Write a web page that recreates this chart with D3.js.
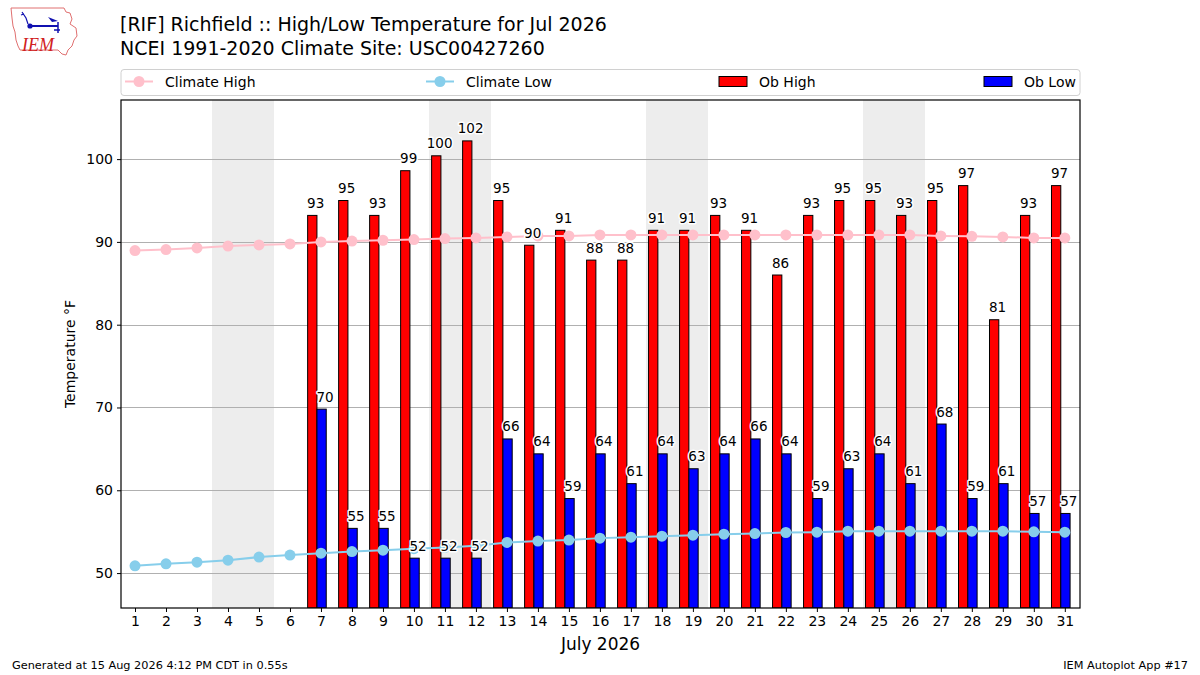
<!DOCTYPE html>
<html>
<head>
<meta charset="utf-8">
<script src="https://cdn.jsdelivr.net/npm/d3@7"></script>
<style>
  html, body { margin: 0; padding: 0; background: #fff; }
  svg { display: block; font-family: "DejaVu Sans", sans-serif; }
</style>
</head>
<body>
<svg id="chart" width="1200" height="675"></svg>
<script>
// ---- data ----
const days = [1,2,3,4,5,6,7,8,9,10,11,12,13,14,15,16,17,18,19,20,21,22,23,24,25,26,27,28,29,30,31];
const climateHigh = [88.95,89.07,89.27,89.5,89.64,89.76,90.0,90.1,90.2,90.28,90.4,90.48,90.6,90.72,90.72,90.84,90.84,90.84,90.84,90.84,90.84,90.84,90.84,90.84,90.84,90.84,90.72,90.68,90.6,90.48,90.48];
const climateLow = [50.88,51.12,51.32,51.56,51.93,52.17,52.4,52.6,52.77,52.95,53.1,53.3,53.7,53.86,53.98,54.22,54.34,54.46,54.58,54.7,54.77,54.9,54.94,55.06,55.06,55.06,55.06,55.06,55.06,54.98,54.94];
const obHigh = [null,null,null,null,null,null,93.2,95,93.2,98.6,100.4,102.2,95,89.6,91.4,87.8,87.8,91.4,91.4,93.2,91.4,86,93.2,95,95,93.2,95,96.8,80.6,93.2,96.8];
const obLow = [null,null,null,null,null,null,69.8,55.4,55.4,51.8,51.8,51.8,66.2,64.4,59,64.4,60.8,64.4,62.6,64.4,66.2,64.4,59,62.6,64.4,60.8,68,59,60.8,57.2,57.2];
const weekendDays = [4,5,11,12,18,19,25,26];
const yTicks = [50,60,70,80,90,100];
const legendLabels = ["Climate High","Climate Low","Ob High","Ob Low"];
const titleLines = ["[RIF] Richfield :: High/Low Temperature for Jul 2026","NCEI 1991-2020 Climate Site: USC00427260"];
const xLabel = "July 2026";
const yLabel = "Temperature \u00B0F";
const footerLeft = "Generated at 15 Aug 2026 4:12 PM CDT in 0.55s";
const footerRight = "IEM Autoplot App #17";

// ---- layout ----
const svg = d3.select("#chart");
const L = 121, R = 1080, T = 100, B = 608;
const x = d3.scaleLinear().domain([0.548, 31.49]).range([L, R]);
const y = d3.scaleLinear().domain([45.78, 107.14]).range([B, T]);
const dayW = x(1) - x(0);

const colHigh = "#ff0000", colLow = "#0000ff", colCH = "#ffc0cb", colCL = "#87ceeb";

// clip
svg.append("defs").append("clipPath").attr("id","plotclip")
  .append("rect").attr("x",L).attr("y",T).attr("width",R-L).attr("height",B-T);

const plot = svg.append("g").attr("clip-path","url(#plotclip)");

// weekend shading
plot.selectAll("rect.wk").data(weekendDays).join("rect")
  .attr("class","wk")
  .attr("x", d => Math.round(x(d - 0.5))).attr("width", d => Math.round(x(d + 0.5)) - Math.round(x(d - 0.5)))
  .attr("y", T).attr("height", B - T)
  .attr("shape-rendering","crispEdges")
  .attr("fill", "#ededed");

// grid
plot.selectAll("line.grid").data(yTicks).join("line")
  .attr("x1", L).attr("x2", R)
  .attr("y1", d => Math.round(y(d)) + 0.5).attr("y2", d => Math.round(y(d)) + 0.5)
  .attr("stroke", "#b0b0b0").attr("stroke-width", 1);

// bars
const barW = 0.3;
const hiData = days.map((d,i) => ({d, v: obHigh[i]})).filter(o => o.v != null);
const loData = days.map((d,i) => ({d, v: obLow[i]})).filter(o => o.v != null);

plot.selectAll("rect.hi").data(hiData).join("rect")
  .attr("x", o => x(o.d - 0.43)).attr("width", barW * dayW)
  .attr("y", o => y(o.v)).attr("height", o => B - y(o.v))
  .attr("fill", colHigh).attr("stroke", "#000").attr("stroke-width", 1);

plot.selectAll("rect.lo").data(loData).join("rect")
  .attr("x", o => x(o.d - 0.13)).attr("width", barW * dayW)
  .attr("y", o => y(o.v)).attr("height", o => B - y(o.v))
  .attr("fill", colLow).attr("stroke", "#000").attr("stroke-width", 1);

// climate lines
const lineGen = d3.line().x(d => x(d[0])).y(d => y(d[1]));
function drawClim(vals, col) {
  const pts = days.map((d,i) => [d, vals[i]]);
  plot.append("path").datum(pts).attr("d", lineGen)
    .attr("fill","none").attr("stroke", col).attr("stroke-width", 2);
  plot.selectAll(null).data(pts).join("circle")
    .attr("cx", p => x(p[0])).attr("cy", p => y(p[1])).attr("r", 5.5)
    .attr("fill", col);
}
drawClim(climateHigh, colCH);
drawClim(climateLow, colCL);

// value labels
function labels(data, dx) {
  svg.append("g").selectAll("text").data(data).join("text")
    .attr("x", o => x(o.d + dx)).attr("y", o => y(o.v) - 7.5)
    .attr("text-anchor","middle").attr("font-size", 13.5)
    .attr("fill","#000")
    .attr("stroke","#fff").attr("stroke-width",3).attr("paint-order","stroke")
    .attr("stroke-linejoin","round")
    .text(o => Math.round(o.v));
}
labels(hiData, -0.17);
labels(loData, 0.13);

// frame
svg.append("rect").attr("x", L).attr("y", T).attr("width", R - L).attr("height", B - T)
  .attr("fill","none").attr("stroke","#000").attr("stroke-width",1.2);

// axes
const xAxis = d3.axisBottom(x).tickValues(days).tickSize(4).tickPadding(4).tickFormat(d3.format("d"));
const gx = svg.append("g").attr("transform", `translate(0,${B})`).call(xAxis);
gx.select(".domain").remove();
gx.selectAll("text").attr("font-size", 14).attr("font-family", "DejaVu Sans").attr("fill","#000");
gx.selectAll("line").attr("stroke","#000");

const yAxis = d3.axisLeft(y).tickValues(yTicks).tickSize(4).tickPadding(4).tickFormat(d3.format("d"));
const gy = svg.append("g").attr("transform", `translate(${L},0)`).call(yAxis);
gy.select(".domain").remove();
gy.selectAll("text").attr("font-size", 14).attr("font-family", "DejaVu Sans").attr("fill","#000");
gy.selectAll("line").attr("stroke","#000");

// axis labels
svg.append("text").attr("x", (L + R) / 2).attr("y", 650).attr("text-anchor","middle")
  .attr("font-size", 17).text(xLabel);
svg.append("text").attr("transform", `translate(75,${(T + B) / 2}) rotate(-90)`)
  .attr("text-anchor","middle").attr("font-size", 14).text(yLabel);

// title
svg.selectAll("text.title").data(titleLines).join("text")
  .attr("class","title").attr("x", 120).attr("y", (d,i) => 31 + i * 23.5)
  .attr("font-size", 19).text(d => d);

// legend
const lg = svg.append("g");
lg.append("rect").attr("x", 121).attr("y", 69.5).attr("width", 959).attr("height", 26)
  .attr("rx", 3).attr("fill","#fff").attr("stroke","#d0d0d0").attr("stroke-width",1);
const legendPos = [125, 426, 719, 984];
const ly = 81.5;
legendLabels.forEach((lab, i) => {
  const hx = legendPos[i];
  if (i < 2) {
    const col = i === 0 ? colCH : colCL;
    lg.append("line").attr("x1", hx).attr("x2", hx + 28).attr("y1", ly).attr("y2", ly)
      .attr("stroke", col).attr("stroke-width", 2);
    lg.append("circle").attr("cx", hx + 14).attr("cy", ly).attr("r", 5.5).attr("fill", col);
  } else {
    lg.append("rect").attr("x", hx).attr("y", ly - 5).attr("width", 28).attr("height", 10)
      .attr("fill", i === 2 ? colHigh : colLow).attr("stroke","#000").attr("stroke-width",1);
  }
  lg.append("text").attr("x", hx + 40).attr("y", ly + 5).attr("font-size", 14).text(lab);
});

// footer
svg.append("text").attr("x", 12).attr("y", 669).attr("font-size", 11.3).text(footerLeft);
svg.append("text").attr("x", 1188).attr("y", 669).attr("text-anchor","end").attr("font-size", 11.3).text(footerRight);

// logo (IEM)
const logo = svg.append("g");
logo.append("path")
  .attr("d","M11,8 L64,8 L66,12 L70,13 L72,19 L70,24 L76,28 L77,36 L74,40 L72,46 L68,50 L66,55 L62,54 L58,50 L20,50 L18,46 L16,40 L15,32 L13,26 L12,18 Z")
  .attr("fill","#fff").attr("stroke","#e07070").attr("stroke-width",1);
logo.append("line").attr("x1",30).attr("x2",58).attr("y1",26).attr("y2",26).attr("stroke","#1010b0").attr("stroke-width",2);
logo.append("circle").attr("cx",30).attr("cy",26).attr("r",2.6).attr("fill","#1010b0");
logo.append("path").attr("d","M48,17 L58,21 L52,22 Z").attr("fill","#1010b0");
logo.append("path").attr("d","M58,22 L58,33 M54,30 L60,30").attr("stroke","#1010b0").attr("stroke-width",1.5).attr("fill","none");
logo.append("path").attr("d","M22,12 L26,18 L28,24 M21,15 L24,14").attr("stroke","#1010b0").attr("stroke-width",1.2).attr("fill","none");
logo.append("text").attr("x",22).attr("y",51).attr("font-family","Liberation Serif, serif")
  .attr("font-style","italic").attr("font-size",18).attr("fill","#d02020").text("IEM");
</script>
</body>
</html>
